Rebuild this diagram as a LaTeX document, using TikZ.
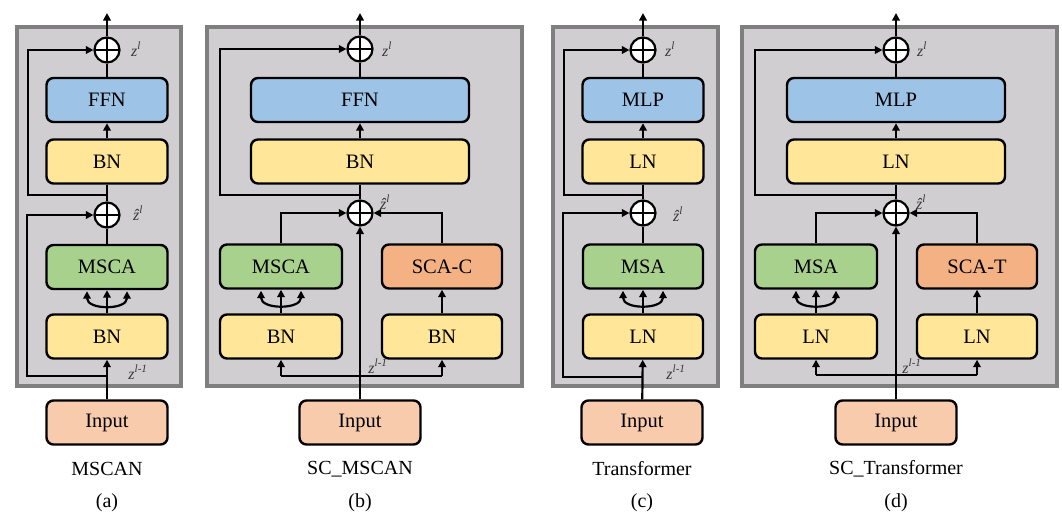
\documentclass[tikz,border=0pt]{standalone}
\usepackage{fontspec}
\setmainfont{Liberation Serif}
\usetikzlibrary{arrows.meta,shadows,calc}
\definecolor{cpanel}{HTML}{D0CED0}
\definecolor{cframe}{HTML}{7F7F7F}
\definecolor{cblue}{HTML}{9DC3E6}
\definecolor{cyellow}{HTML}{FFE699}
\definecolor{cgreen}{HTML}{A9D18E}
\definecolor{corange}{HTML}{F4B183}
\definecolor{cpeach}{HTML}{F8CBAD}
\definecolor{clabel}{HTML}{3A3A3A}
\tikzset{
  blk/.style={draw, line width=2.4pt, rounded corners=7pt, minimum height=44pt, inner sep=0pt, font=\fontsize{20.5}{24}\selectfont},
  ffnb/.style={blk, fill=cblue},
  bnb/.style={blk, fill=cyellow},
  mscab/.style={blk, fill=cgreen},
  scab/.style={blk, fill=corange},
  inb/.style={blk, fill=cpeach, minimum width=121pt},
  addop/.style={circle, draw, fill=white, line width=2.2pt, minimum size=25pt, inner sep=0pt,
    path picture={\draw[line width=2.2pt] (path picture bounding box.north) -- (path picture bounding box.south) (path picture bounding box.west) -- (path picture bounding box.east);}},
  conn/.style={line width=2.2pt},
  arr/.style={conn, -{Triangle[length=7.5pt,width=7.5pt]}},
  dblarr/.style={conn, {Triangle[length=7.5pt,width=7.5pt]}-{Triangle[length=7.5pt,width=7.5pt]}},
  panel/.style={draw=cframe, line width=3.5pt, fill=cpanel, drop shadow={shadow xshift=1.5pt, shadow yshift=-1.5pt, opacity=0.3}},
  lbl/.style={font=\fontsize{16}{18}\selectfont\itshape, text=clabel, inner sep=0pt},
  captxt/.style={font=\fontsize{20}{24}\selectfont, inner sep=0pt}
}
\newcommand{\zl}{z\textsuperscript{l}}
\newcommand{\zhl}{ẑ\textsuperscript{l}}
\newcommand{\zlm}{z\textsuperscript{l-1}}
\begin{document}
\begin{tikzpicture}[x=1pt,y=-1pt]
\useasboundingbox (0,0) rectangle (1062,512);

% ================= (a) MSCAN =================
\path[panel] (17,27) rectangle (181,386);
\node[addop] (a1) at (107,50) {};
\node[ffnb, minimum width=121pt] (affn) at (107,100) {FFN};
\node[bnb, minimum width=121pt] (abn1) at (107,161.5) {BN};
\node[addop] (a2) at (107,215) {};
\node[mscab, minimum width=121pt] (amsca) at (107,267) {MSCA};
\node[bnb, minimum width=121pt] (abn2) at (107,336.5) {BN};
\node[inb] (ain) at (107,422.5) {Input};
\coordinate (aout) at (107,13);
\coordinate (as1) at (107,195);
\coordinate (as1l) at (28,195);
\coordinate (as2) at (107,376);
\coordinate (as2l) at (27,376);
\draw[arr] (a1) -- (aout);
\draw[conn] (affn) -- (a1);
\draw[arr] (abn1) -- (affn);
\draw[conn] (abn1) -- (a2);
\draw[arr] (as1) -- (as1l) |- (a1.west);
\draw[conn] (amsca) -- (a2);
\draw[arr] (abn2) -- (amsca);
\draw[dblarr] ([xshift=-20pt,yshift=-1pt]amsca.south) .. controls +(0,19) and +(0,19) .. ([xshift=20pt,yshift=-1pt]amsca.south);
\draw[arr] (ain) -- (abn2);
\draw[arr] (as2) -- (as2l) |- (a2.west);
\node[lbl] (azl) at (136,49) {\zl};
\node[lbl] (azh) at (138,213) {\zhl};
\node[lbl] (azm) at (138,372) {\zlm};
\node[captxt] (acap) at (107,469) {MSCAN};
\node[captxt] (alet) at (107,503) {(a)};

% ================= (b) SC_MSCAN =================
\path[panel] (207,27) rectangle (522,386);
\node[addop] (b1) at (360,49) {};
\node[ffnb, minimum width=218pt] (bffn) at (360,100) {FFN};
\node[bnb, minimum width=218pt] (bbn1) at (360,161.5) {BN};
\node[addop] (b2) at (360,213) {};
\node[mscab, minimum width=122pt] (bmsca) at (281,266.5) {MSCA};
\node[scab, minimum width=120pt] (bsca) at (442,266.5) {SCA-C};
\node[bnb, minimum width=122pt] (bbnl) at (281,336.5) {BN};
\node[bnb, minimum width=120pt] (bbnr) at (442,336.5) {BN};
\node[inb] (bin) at (360,422.5) {Input};
\coordinate (bout) at (360,13);
\coordinate (bs1) at (360,195);
\coordinate (bs1l) at (220,195);
\coordinate (bbl) at (281,376);
\coordinate (bbr) at (442,376);
\draw[arr] (b1) -- (bout);
\draw[conn] (bffn) -- (b1);
\draw[arr] (bbn1) -- (bffn);
\draw[conn] (bbn1) -- (b2);
\draw[arr] (bs1) -- (bs1l) |- (b1.west);
\draw[arr] (bmsca.north) |- (b2.west);
\draw[arr] (bsca.north) |- (b2.east);
\draw[arr] (bin) -- (b2);
\draw[conn] (bbl) -- (bbr);
\draw[arr] (bbl) -- (bbnl);
\draw[arr] (bbr) -- (bbnr);
\draw[arr] (bbnl) -- (bmsca);
\draw[dblarr] ([xshift=-20pt,yshift=-1pt]bmsca.south) .. controls +(0,19) and +(0,19) .. ([xshift=20pt,yshift=-1pt]bmsca.south);
\draw[arr] (bbnr) -- (bsca);
\node[lbl] (bzl) at (387,49) {\zl};
\node[lbl] (bzh) at (385,202) {\zhl};
\node[lbl] (bzm) at (378,366) {\zlm};
\node[captxt] (bcap) at (360,469) {SC\_MSCAN};
\node[captxt] (blet) at (360,503) {(b)};

% ================= (c) Transformer =================
\path[panel] (553,27) rectangle (718,386);
\node[addop] (c1) at (643,50) {};
\node[ffnb, minimum width=121pt] (cmlp) at (643,100) {MLP};
\node[bnb, minimum width=121pt] (cln1) at (643,161.5) {LN};
\node[addop] (c2) at (643,213) {};
\node[mscab, minimum width=120pt] (cmsa) at (643,266.5) {MSA};
\node[bnb, minimum width=120pt] (cln2) at (643,336.5) {LN};
\node[inb] (cin) at (642,422.5) {Input};
\coordinate (cout) at (643,13);
\coordinate (cs1) at (643,195);
\coordinate (cs1l) at (564,195);
\coordinate (cs2) at (643,377);
\coordinate (cs2l) at (563,377);
\draw[arr] (c1) -- (cout);
\draw[conn] (cmlp) -- (c1);
\draw[arr] (cln1) -- (cmlp);
\draw[conn] (cln1) -- (c2);
\draw[arr] (cs1) -- (cs1l) |- (c1.west);
\draw[conn] (cmsa) -- (c2);
\draw[arr] (cln2) -- (cmsa);
\draw[dblarr] ([xshift=-20pt,yshift=-1pt]cmsa.south) .. controls +(0,19) and +(0,19) .. ([xshift=20pt,yshift=-1pt]cmsa.south);
\draw[arr] (cin) -- (cln2);
\draw[arr] (cs2) -- (cs2l) |- (c2.west);
\node[lbl] (czl) at (670,49) {\zl};
\node[lbl] (czh) at (678,214) {\zhl};
\node[lbl] (czm) at (676,372) {\zlm};
\node[captxt] (ccap) at (642,469) {Transformer};
\node[captxt] (clet) at (642,503) {(c)};

% ================= (d) SC_Transformer =================
\path[panel] (742,27) rectangle (1057,386);
\node[addop] (d1) at (896,50) {};
\node[ffnb, minimum width=218pt] (dmlp) at (896,100) {MLP};
\node[bnb, minimum width=218pt] (dln1) at (896,161.5) {LN};
\node[addop] (d2) at (896,213) {};
\node[mscab, minimum width=122pt] (dmsa) at (816,266.5) {MSA};
\node[scab, minimum width=120pt] (dsca) at (977,266.5) {SCA-T};
\node[bnb, minimum width=122pt] (dlnl) at (816,336.5) {LN};
\node[bnb, minimum width=120pt] (dlnr) at (977,336.5) {LN};
\node[inb] (din) at (896,422.5) {Input};
\coordinate (dout) at (896,13);
\coordinate (ds1) at (896,195);
\coordinate (ds1l) at (755,195);
\coordinate (dbl) at (816,375);
\coordinate (dbr) at (977,375);
\draw[arr] (d1) -- (dout);
\draw[conn] (dmlp) -- (d1);
\draw[arr] (dln1) -- (dmlp);
\draw[conn] (dln1) -- (d2);
\draw[arr] (ds1) -- (ds1l) |- (d1.west);
\draw[arr] (dmsa.north) |- (d2.west);
\draw[arr] (dsca.north) |- (d2.east);
\draw[arr] (din) -- (d2);
\draw[conn] (dbl) -- (dbr);
\draw[arr] (dbl) -- (dlnl);
\draw[arr] (dbr) -- (dlnr);
\draw[arr] (dlnl) -- (dmsa);
\draw[dblarr] ([xshift=-20pt,yshift=-1pt]dmsa.south) .. controls +(0,19) and +(0,19) .. ([xshift=20pt,yshift=-1pt]dmsa.south);
\draw[arr] (dlnr) -- (dsca);
\node[lbl] (dzl) at (922,49) {\zl};
\node[lbl] (dzh) at (921,202) {\zhl};
\node[lbl] (dzm) at (912,366) {\zlm};
\node[captxt] (dcap) at (896,469) {SC\_Transformer};
\node[captxt] (dlet) at (896,503) {(d)};
\end{tikzpicture}
\end{document}
